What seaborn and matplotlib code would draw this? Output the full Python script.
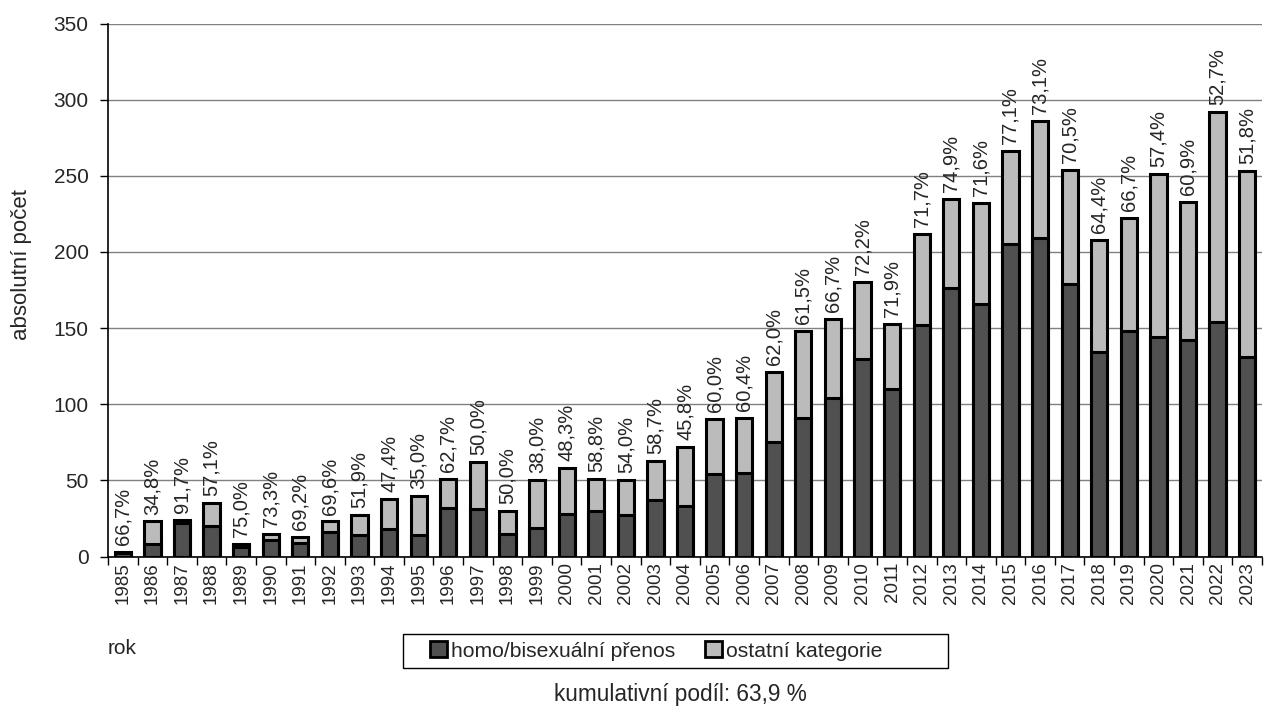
import matplotlib
matplotlib.use("Agg")
import matplotlib.pyplot as plt
import seaborn as sns
import pandas as pd
import numpy as np
from matplotlib.patches import Patch, Rectangle
from matplotlib.ticker import MultipleLocator, FixedLocator

years = [str(y) for y in range(1985, 2024)]
totals = [3, 23, 24, 35, 8, 15, 13, 23, 27, 38, 40, 51, 62, 30, 50, 58, 51, 50, 63, 72,
          90, 91, 121, 148, 156, 180, 153, 212, 235, 232, 266, 286, 254, 208, 222, 251, 233, 292, 253]
homo = [2, 8, 22, 20, 6, 11, 9, 16, 14, 18, 14, 32, 31, 15, 19, 28, 30, 27, 37, 33,
        54, 55, 75, 91, 104, 130, 110, 152, 176, 166, 205, 209, 179, 134, 148, 144, 142, 154, 131]
pct_labels = ["66,7%", "34,8%", "91,7%", "57,1%", "75,0%", "73,3%", "69,2%", "69,6%", "51,9%",
              "47,4%", "35,0%", "62,7%", "50,0%", "50,0%", "38,0%", "48,3%", "58,8%", "54,0%",
              "58,7%", "45,8%", "60,0%", "60,4%", "62,0%", "61,5%", "66,7%", "72,2%", "71,9%",
              "71,7%", "74,9%", "71,6%", "77,1%", "73,1%", "70,5%", "64,4%", "66,7%", "57,4%",
              "60,9%", "52,7%", "51,8%"]
series_names = ["homo/bisexuální přenos", "ostatní kategorie"]

df = pd.DataFrame({"rok": years, "total": totals, "homo": homo})

sns.set_theme(style="white")
plt.rcParams["font.family"] = ["Liberation Sans", "DejaVu Sans"]

DARK = "#505050"
LIGHT = "#BBBBBB"
W, H = 1271, 713

fig = plt.figure(figsize=(W / 100, H / 100), dpi=100)
ax = fig.add_axes([108 / W, 1 - 556.5 / H, (1262 - 108) / W, (556.5 - 23.5) / H])

sns.barplot(data=df, x="rok", y="total", color=LIGHT, saturation=1, width=0.55,
            edgecolor="black", linewidth=2.2, ax=ax)
sns.barplot(data=df, x="rok", y="homo", color=DARK, saturation=1, width=0.55,
            edgecolor="black", linewidth=2.2, ax=ax)

ax.set_ylim(0, 350)
ax.set_xlim(-0.5, len(years) - 0.5)
ax.yaxis.set_major_locator(MultipleLocator(50))
ax.grid(axis="y", color="#808080", linewidth=1.0)
ax.set_axisbelow(True)
gl = ax.get_ygridlines()
gl[-1].set_color("#C8C8C8")
gl[-1].set_linewidth(2.0)
for s in ["top", "right"]:
    ax.spines[s].set_visible(False)
for s in ["left", "bottom"]:
    ax.spines[s].set_color("black")
    ax.spines[s].set_linewidth(1.2)

ax.tick_params(axis="y", which="major", length=6, width=1, color="black",
               direction="out", left=True, labelsize=15, pad=8)
ax.tick_params(axis="x", which="major", length=0, labelsize=13.5, rotation=90, pad=4)
ax.xaxis.set_minor_locator(FixedLocator(np.arange(-0.5, len(years), 1.0)))
ax.tick_params(axis="x", which="minor", length=6, width=1, color="black", direction="out", bottom=True)

ax.set_xlabel("")
ax.set_ylabel("")
fig.text(22 / W, 1 - 264 / H, "absolutní počet", rotation=90, fontsize=16,
         ha="center", va="center")

for i, (t, lab) in enumerate(zip(totals, pct_labels)):
    ax.annotate(lab, xy=(i, t), xytext=(0, 5), textcoords="offset points",
                rotation=90, ha="center", va="bottom", fontsize=14.5)

fig.text(108 / W, 1 - 648 / H, "rok", fontsize=15, ha="left", va="center")

# legend frame (equal-width Excel-style entries)
fig.patches.append(Rectangle((403 / W, 1 - 668 / H), (948 - 403) / W, (668 - 634) / H,
                             transform=fig.transFigure, facecolor="white",
                             edgecolor="black", linewidth=1.0, zorder=1))
handles = [Patch(facecolor=DARK, edgecolor="black", linewidth=2),
           Patch(facecolor=LIGHT, edgecolor="black", linewidth=2)]
leg = fig.legend(handles, series_names, loc="center left",
                 bbox_to_anchor=(430 / W, 1 - 651 / H),
                 ncol=2, frameon=False, fontsize=15.2,
                 handlelength=0.8, handleheight=0.8, handletextpad=0.2, columnspacing=1.4,
                 borderpad=0, borderaxespad=0)
leg.set_zorder(5)

fig.text(680.5 / W, 1 - 694 / H, "kumulativní podíl: 63,9 %", fontsize=16.3,
         ha="center", va="center")

fig.savefig("out.png", dpi=100)
